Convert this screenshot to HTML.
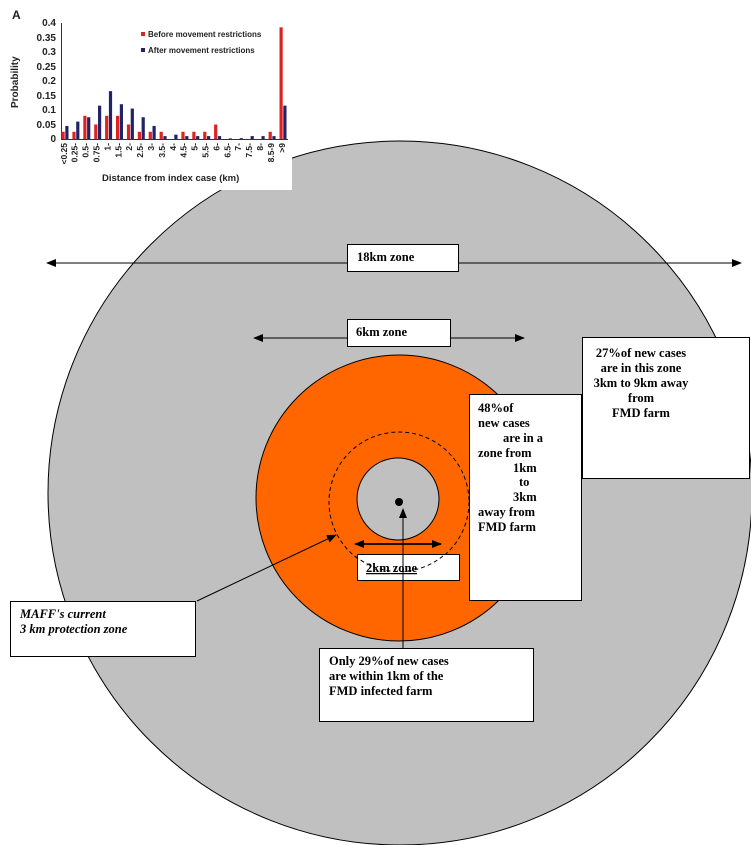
<!DOCTYPE html>
<html><head><meta charset="utf-8"><style>
html,body{margin:0;padding:0;background:#fff;width:751px;height:845px;overflow:hidden}
svg{display:block}
.t{font-family:"Liberation Serif",serif;font-weight:bold;font-size:12.5px;fill:#000}
.c{font-family:"Liberation Sans",sans-serif;font-weight:bold;fill:#222}
</style></head><body>
<svg width="751" height="845" viewBox="0 0 751 845" xmlns="http://www.w3.org/2000/svg">
<defs>
<marker id="ah" markerWidth="10" markerHeight="8" refX="9" refY="4" orient="auto" markerUnits="userSpaceOnUse"><path d="M0,0 L10,4 L0,8 z" fill="#000"/></marker>
</defs>
<circle cx="400" cy="493" r="352" fill="#c0c0c0" stroke="#000" stroke-width="1"/>
<rect x="0" y="0" width="292" height="190" fill="#fff"/>
<circle cx="399" cy="498" r="143" fill="#ff6600" stroke="#000" stroke-width="1"/>
<circle cx="399" cy="502" r="70" fill="none" stroke="#000" stroke-width="1" stroke-dasharray="4,3"/>
<circle cx="398" cy="499" r="41" fill="#c0c0c0" stroke="#000" stroke-width="1"/>
<circle cx="399" cy="502" r="4" fill="#000"/>

<line x1="49" y1="263" x2="741" y2="263" stroke="#000" marker-end="url(#ah)"/>
<line x1="741" y1="263" x2="47" y2="263" stroke="#000" marker-end="url(#ah)"/>
<rect x="347.5" y="244.5" width="111" height="27" fill="#fff" stroke="#000"/>
<text class="t" x="357" y="261">18km zone</text>
<line x1="256" y1="338" x2="524" y2="338" stroke="#000" marker-end="url(#ah)"/>
<line x1="522" y1="338" x2="254" y2="338" stroke="#000" marker-end="url(#ah)"/>
<rect x="347.5" y="319.5" width="103" height="27" fill="#fff" stroke="#000"/>
<text class="t" x="356" y="336">6km zone</text>
<rect x="582.5" y="337.5" width="167" height="141" fill="#fff" stroke="#000"/>
<text class="t" text-anchor="middle"><tspan x="641" y="357">27%of new cases</tspan><tspan x="641" y="372">are in this zone</tspan><tspan x="641" y="387">3km to 9km away</tspan><tspan x="641" y="402">from</tspan><tspan x="641" y="417">FMD farm</tspan></text>
<rect x="469.5" y="394.5" width="112" height="206" fill="#fff" stroke="#000"/>
<text class="t"><tspan x="478" y="412">48%of</tspan><tspan x="478" y="427">new cases</tspan><tspan x="503" y="442">are in a</tspan><tspan x="478" y="457">zone from</tspan><tspan x="513" y="472">1km</tspan><tspan x="519" y="486">to</tspan><tspan x="513" y="501">3km</tspan><tspan x="478" y="516">away from</tspan><tspan x="478" y="531">FMD farm</tspan></text>
<rect x="357.5" y="554.5" width="102" height="26" fill="#fff" stroke="#000"/>
<path d="M355 556 A70 70 0 0 0 443 556" fill="none" stroke="#000" stroke-dasharray="4,3"/>
<text class="t" x="366" y="572" text-decoration="underline">2km zone</text>
<line x1="358" y1="544" x2="441" y2="544" stroke="#000" stroke-width="1.5" marker-end="url(#ah)"/>
<line x1="441" y1="544" x2="355" y2="544" stroke="#000" stroke-width="1.5" marker-end="url(#ah)"/>
<line x1="403" y1="648" x2="403" y2="509" stroke="#000" marker-end="url(#ah)"/>
<rect x="319.5" y="648.5" width="214" height="73" fill="#fff" stroke="#000"/>
<text class="t"><tspan x="329" y="665">Only 29%of new cases</tspan><tspan x="329" y="680">are within 1km of the</tspan><tspan x="329" y="695">FMD infected farm</tspan></text>
<line x1="197" y1="601" x2="336" y2="535" stroke="#000" marker-end="url(#ah)"/>
<rect x="10.5" y="601.5" width="185" height="55" fill="#fff" stroke="#000"/>
<text class="t" font-style="italic"><tspan x="20" y="618">MAFF's current</tspan><tspan x="20" y="633">3 km protection zone</tspan></text>

<text class="c" x="12" y="19" font-size="12">A</text>
<g stroke="#333" stroke-width="1">
<line x1="61.5" y1="23" x2="61.5" y2="139"/>
<line x1="61" y1="139.5" x2="288" y2="139.5"/>
</g>
<g class="c" font-size="10" text-anchor="end">
<text x="56" y="26">0.4</text><text x="56" y="41">0.35</text><text x="56" y="55">0.3</text><text x="56" y="70">0.25</text><text x="56" y="84">0.2</text><text x="56" y="99">0.15</text><text x="56" y="113">0.1</text><text x="56" y="128">0.05</text><text x="56" y="142">0</text>
</g>
<text class="c" font-size="10" transform="translate(18,108) rotate(-90)">Probability</text>
<rect x="141" y="32" width="4" height="4" fill="#d22"/>
<text class="c" x="148" y="37" font-size="8" font-weight="normal">Before movement restrictions</text>
<rect x="141" y="48" width="4" height="4" fill="#22226a"/>
<text class="c" x="148" y="53" font-size="8" font-weight="normal">After movement restrictions</text>
<g id="bars"></g>
<g id="labs" class="c" font-size="8.5"></g>
<text class="c" x="102" y="181" font-size="9.5">Distance from index case (km)</text>
</svg>
<script>
var b=[.025,.025,.08,.05,.08,.08,.05,.025,.025,.025,0,.025,.025,.025,.05,0,0,0,0,.025,.385];
var a=[.045,.06,.075,.115,.165,.12,.105,.075,.045,.01,.015,.01,.01,.01,.01,.002,.003,.01,.01,.01,.115];
var L=["<0.25","0.25-","0.5-","0.75-","1-","1.5-","2-","2.5-","3-","3.5-","4-","4.5-","5-","5.5-","6-","6.5-","7-","7.5-","8-","8.5-9",">9"];
var ns="http://www.w3.org/2000/svg",g=document.getElementById("bars"),lg=document.getElementById("labs");
function r(x0,v,c){var e=document.createElementNS(ns,"rect");var h=v*290;e.setAttribute("x",x0);e.setAttribute("y",139-h);e.setAttribute("width",3.2);e.setAttribute("height",h);e.setAttribute("fill",c);g.appendChild(e);}
for(var i=0;i<21;i++){var x=63.3+i*10.9;
r(x-1.8,b[i],"#dd2222");r(x+2,a[i],"#22226a");
var t=document.createElementNS(ns,"text");t.setAttribute("transform","translate("+(x+3.5)+",143) rotate(-90)");t.setAttribute("text-anchor","end");t.textContent=L[i];lg.appendChild(t);}
</script>
</body></html>
